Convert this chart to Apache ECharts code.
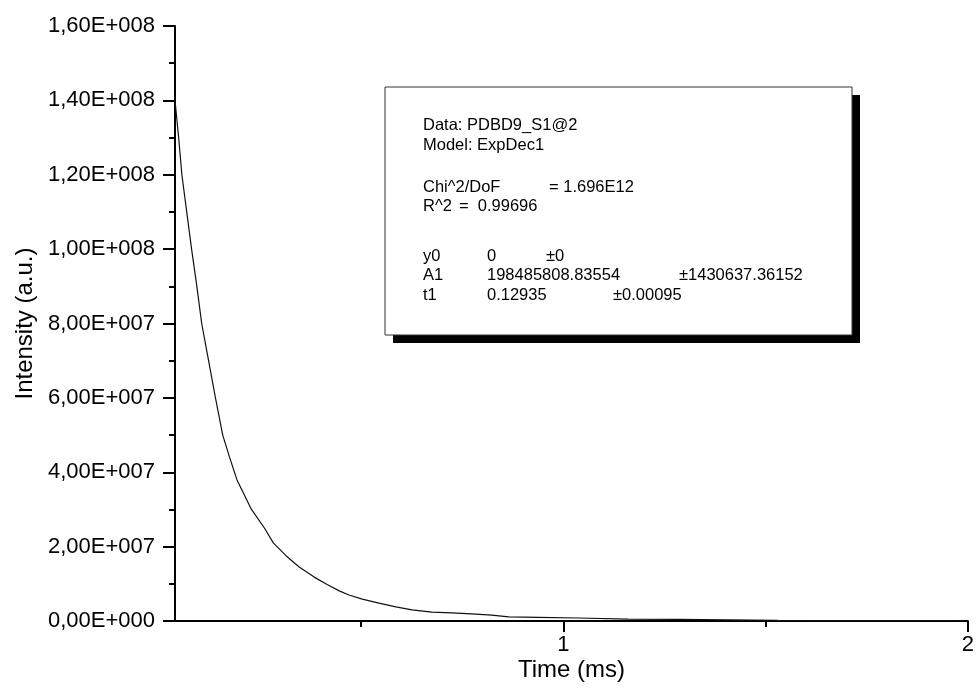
<!DOCTYPE html>
<html>
<head>
<meta charset="utf-8">
<script src="https://cdn.jsdelivr.net/npm/echarts@6/dist/echarts.min.js"></script>
<style>html,body{margin:0;padding:0;background:#fff;}#c{width:977px;height:696px;}</style>
</head>
<body>
<div id="c"></div>
<script>
// Time (ms) values
var timeMs = [0.040, 0.049, 0.057, 0.069, 0.081, 0.094, 0.106, 0.123, 0.140, 0.158, 0.175, 0.193, 0.229, 0.261, 0.283, 0.315, 0.347, 0.384, 0.416, 0.446, 0.470, 0.503, 0.544, 0.586, 0.626, 0.675, 0.724, 0.773, 0.823, 0.865, 0.938, 1.037, 1.160, 1.283, 1.406, 1.530, 1.702, 1.850, 1.998];
// Intensity (a.u.) values
var intensity = [1.40e8, 1.30e8, 1.20e8, 1.10e8, 1.00e8, 9.0e7, 8.0e7, 7.0e7, 6.0e7, 5.0e7, 4.4e7, 3.8e7, 3.0e7, 2.5e7, 2.1e7, 1.75e7, 1.45e7, 1.18e7, 9.8e6, 8.1e6, 7.0e6, 5.9e6, 4.8e6, 3.8e6, 3.0e6, 2.4e6, 2.2e6, 1.9e6, 1.6e6, 1.1e6, 1.0e6, 8.0e5, 5.0e5, 4.5e5, 3.0e5, 1.5e5, 1.0e5, 8.0e4, 5.0e4];
var xLabelValues = [1, 2];
var xMinorTickValues = [0.5, 1.5];
var fitLabels = ["Data: PDBD9_S1@2", "Model: ExpDec1", "Chi^2/DoF", "R^2", "y0", "A1", "t1"];
var fitCol2 = ["", "", "= 1.696E12", "=  0.99696", "0", "198485808.83554", "0.12935"];
var fitCol3 = ["", "", "", "", "\u00b10", "\u00b11430637.36152", "\u00b10.00095"];

var FONT = 'Arial, "Liberation Sans", sans-serif';
function sci(v) {
  if (v === 0) return '0,00E+000';
  var e = Math.floor(Math.log10(Math.abs(v)) + 1e-9);
  var m = v / Math.pow(10, e);
  var es = String(Math.abs(e));
  while (es.length < 3) es = '0' + es;
  return m.toFixed(2).replace('.', ',') + 'E' + (e < 0 ? '-' : '+') + es;
}

var data = timeMs.map(function (t, i) { return [t, intensity[i]]; });

var lineY = [125, 145, 187, 206, 256, 275, 295];
var col2X = [0, 0, 549, 459, 487, 487, 487];
var col3X = [0, 0, 0, 0, 546, 679, 613];
var g = [
  {type: 'rect', shape: {x: 393, y: 95, width: 467, height: 248}, style: {fill: '#000'}, z: 100},
  {type: 'rect', shape: {x: 385, y: 87, width: 467, height: 248}, style: {fill: '#fff', stroke: '#333', lineWidth: 1}, z: 101}
];
for (var i = 0; i < fitLabels.length; i++) {
  g.push({type: 'text', x: 423, y: lineY[i], z: 102, style: {text: fitLabels[i], font: '16.5px ' + FONT, fill: '#000', verticalAlign: 'middle'}});
  if (fitCol2[i]) g.push({type: 'text', x: col2X[i], y: lineY[i], z: 102, style: {text: fitCol2[i], font: '16.5px ' + FONT, fill: '#000', verticalAlign: 'middle'}});
  if (fitCol3[i]) g.push({type: 'text', x: col3X[i], y: lineY[i], z: 102, style: {text: fitCol3[i], font: '16.5px ' + FONT, fill: '#000', verticalAlign: 'middle'}});
}

var chart = echarts.init(document.getElementById('c'), null, {renderer: 'canvas'});
chart.setOption({
  backgroundColor: '#fff',
  animation: false,
  grid: {left: 175, right: 6, top: 26, bottom: 75, containLabel: false},
  xAxis: [{
    type: 'value', min: 0.04, max: 2, position: 'bottom',
    name: 'Time (ms)', nameLocation: 'middle', nameGap: 37, nameMoveOverlap: false,
    nameTextStyle: {fontSize: 24, color: '#000', fontFamily: FONT, verticalAlign: 'top'},
    axisLine: {show: true, onZero: false, lineStyle: {color: '#000', width: 2}},
    axisTick: {show: true, length: 11, customValues: xLabelValues, lineStyle: {color: '#000', width: 2}},
    axisLabel: {show: true, customValues: xLabelValues, fontSize: 22, color: '#000', fontFamily: FONT, margin: 13, formatter: function (v) { return String(v); }},
    splitLine: {show: false}
  }, {
    type: 'value', min: 0.04, max: 2, position: 'bottom',
    axisLine: {show: false, onZero: false},
    axisTick: {show: true, length: 6, customValues: xMinorTickValues, lineStyle: {color: '#000', width: 2}},
    axisLabel: {show: false},
    splitLine: {show: false}
  }],
  yAxis: {
    type: 'value', min: 0, max: 1.6e8, interval: 2e7,
    name: 'Intensity (a.u.)', nameLocation: 'middle', nameGap: 138,
    nameTextStyle: {fontSize: 24, color: '#000', fontFamily: FONT},
    axisLine: {show: true, lineStyle: {color: '#000', width: 2}},
    axisTick: {show: true, length: 12, lineStyle: {color: '#000', width: 2}},
    minorTick: {show: true, splitNumber: 2, length: 6, lineStyle: {color: '#000', width: 2}},
    axisLabel: {fontSize: 22, color: '#000', fontFamily: FONT, margin: 20, formatter: sci},
    splitLine: {show: false}, minorSplitLine: {show: false}
  },
  series: [{
    type: 'line', data: data, xAxisIndex: 0, showSymbol: false, symbol: 'none',
    lineStyle: {color: '#111', width: 1.2}, clip: true
  }],
  graphic: g
});
</script>
</body>
</html>
